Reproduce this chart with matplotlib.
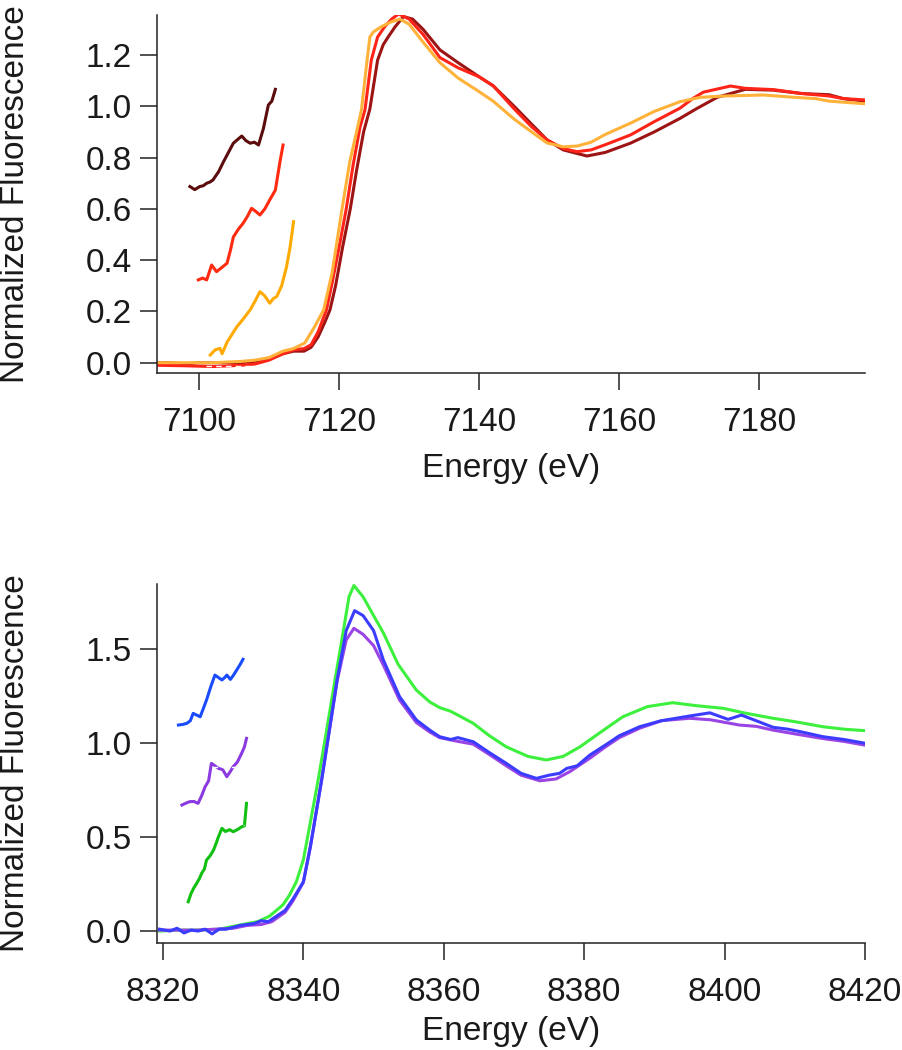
import matplotlib
matplotlib.use("Agg")
import matplotlib.pyplot as plt

plt.rcParams['font.family'] = ['Liberation Sans', 'DejaVu Sans']

# ---------------- Top panel (Fe K-edge region) ----------------
E_dkred = [7094, 7096, 7098, 7100, 7102, 7104, 7106, 7108, 7110, 7112, 7113.5, 7115, 7116, 7117, 7118,
           7118.7, 7119.5, 7120.5, 7121.6, 7122.5, 7123.5, 7124.4, 7125.5, 7126.3, 7127, 7128, 7129.2,
           7130.5, 7132, 7134.4, 7137, 7140, 7142, 7145, 7147.5, 7149.7, 7152, 7155.4, 7158, 7161.6,
           7165, 7168.7, 7171, 7174, 7178, 7182, 7186, 7190, 7192, 7195]
mu_dkred = [0.0, 0.0, -0.005, 0.0, 0.0, 0.0, 0.0, 0.005, 0.015, 0.035, 0.045, 0.045, 0.06, 0.10, 0.16,
            0.206, 0.30, 0.45, 0.60, 0.75, 0.90, 0.99, 1.18, 1.24, 1.27, 1.31, 1.35,
            1.34, 1.30, 1.22, 1.17, 1.115, 1.08, 1.00, 0.93, 0.869, 0.83, 0.806, 0.82, 0.856,
            0.90, 0.953, 0.99, 1.035, 1.066, 1.063, 1.05, 1.045, 1.03, 1.02]

E_red = [7094, 7098, 7102, 7106, 7108, 7110, 7112, 7113.5, 7115, 7116, 7117, 7118.2, 7119, 7120, 7121,
         7122, 7123, 7123.7, 7124.6, 7125.5, 7126.5, 7127.5, 7128.5, 7130, 7132, 7134.4, 7137, 7140,
         7142, 7145, 7147.5, 7149.7, 7152, 7154, 7156, 7158, 7161.6, 7165, 7168.7, 7170.5, 7172,
         7175.9, 7178, 7182, 7186, 7190, 7192, 7195]
mu_red = [-0.01, -0.012, -0.015, -0.01, -0.005, 0.01, 0.035, 0.05, 0.055, 0.07, 0.12, 0.206, 0.31, 0.45, 0.596,
          0.77, 0.92, 0.986, 1.18, 1.27, 1.31, 1.34, 1.36, 1.34, 1.28, 1.19, 1.15, 1.115,
          1.08, 0.99, 0.92, 0.869, 0.835, 0.823, 0.83, 0.85, 0.888, 0.94, 0.993, 1.03, 1.055,
          1.079, 1.07, 1.065, 1.05, 1.04, 1.03, 1.025]

E_orange = [7094, 7098, 7102, 7106, 7108, 7110, 7112, 7113.5, 7115.1, 7116.5, 7117.8, 7119, 7120.4, 7121.5,
            7122.5, 7123.2, 7124.0, 7124.4, 7124.9, 7126, 7127.5, 7128.7, 7130, 7132, 7134.4, 7137, 7140,
            7142, 7145, 7148, 7149.7, 7152, 7154, 7156, 7158, 7161.6, 7165, 7168.7, 7171.6, 7175,
            7180.6, 7185, 7188, 7190, 7195]
mu_orange = [0.0, 0.0, 0.0, 0.005, 0.01, 0.02, 0.045, 0.055, 0.077, 0.14, 0.206, 0.35, 0.596, 0.78,
             0.90, 0.986, 1.18, 1.27, 1.29, 1.31, 1.33, 1.34, 1.32, 1.25, 1.17, 1.11, 1.057,
             1.02, 0.95, 0.89, 0.857, 0.842, 0.845, 0.86, 0.89, 0.934, 0.98, 1.018, 1.035, 1.04,
             1.044, 1.035, 1.03, 1.02, 1.01]

# magnified pre-edge insets (offset)
E_pre_dkred = [7098.7, 7099.4, 7100.1, 7100.6, 7101.1, 7101.6, 7102.0, 7102.8, 7103.5, 7104.2, 7104.9,
               7105.5, 7106.1, 7106.7, 7107.3, 7107.9, 7108.5, 7109.2, 7109.9, 7110.4, 7110.9]
pre_dkred = [0.687, 0.675, 0.687, 0.69, 0.70, 0.705, 0.713, 0.745, 0.784, 0.82, 0.856,
             0.87, 0.884, 0.866, 0.856, 0.86, 0.849, 0.914, 1.005, 1.02, 1.066]

E_pre_red = [7099.9, 7100.5, 7101.1, 7101.8, 7102.5, 7103.2, 7104.0, 7104.5, 7104.9, 7105.6, 7106.3,
             7106.9, 7107.5, 7108.1, 7108.7, 7109.4, 7110.1, 7110.9, 7111.6, 7112.0]
pre_red = [0.323, 0.33, 0.323, 0.381, 0.355, 0.37, 0.388, 0.44, 0.49, 0.52, 0.544,
           0.57, 0.602, 0.59, 0.576, 0.60, 0.635, 0.673, 0.79, 0.849]

E_pre_orange = [7101.6, 7102.3, 7103.0, 7103.3, 7104.0, 7104.7, 7105.4, 7106.3, 7107.3, 7108.0, 7108.7,
                7109.4, 7110.1, 7110.6, 7111.1, 7111.8, 7112.5, 7113.0, 7113.5]
pre_orange = [0.03, 0.05, 0.056, 0.035, 0.08, 0.11, 0.14, 0.17, 0.206, 0.24, 0.277,
              0.26, 0.232, 0.25, 0.258, 0.30, 0.374, 0.45, 0.55]

# white fit marks
fit_top_E = [7101.0, 7110.0]
fit_top_mu = [-0.012, -0.012]

# ---------------- Bottom panel (Cu K-edge region) ----------------
E_green = [8319.5, 8322, 8325, 8328, 8330, 8332, 8333.5, 8335.2, 8337.1, 8338, 8339, 8340, 8341, 8342.1,
           8343, 8344.5, 8345.7, 8346.5, 8347.2, 8348.5, 8350, 8351.4, 8353.5, 8356.1, 8358, 8359.4,
           8361, 8364.2, 8366.5, 8368.9, 8372, 8374.6, 8377, 8379.4, 8382, 8385.5, 8389, 8392.6,
           8396, 8399.8, 8403, 8406.9, 8410, 8414, 8417, 8420]
mu_green = [0.0, 0.005, 0.005, 0.01, 0.025, 0.04, 0.05, 0.08, 0.14, 0.19, 0.262, 0.38, 0.58, 0.804,
            1.0, 1.336, 1.60, 1.78, 1.84, 1.78, 1.68, 1.587, 1.42, 1.283, 1.22, 1.19,
            1.17, 1.106, 1.04, 0.981, 0.93, 0.911, 0.93, 0.981, 1.05, 1.141, 1.195, 1.216,
            1.20, 1.186, 1.16, 1.133, 1.115, 1.088, 1.075, 1.067]

E_blue = [8319.5, 8321, 8322, 8323, 8324, 8325, 8326, 8327, 8328, 8329, 8330, 8331, 8332, 8333, 8334,
          8335, 8336.2, 8337.4, 8338.5, 8340, 8341, 8342.6, 8343.5, 8344.8, 8346.1, 8347.3, 8348.5,
          8350, 8351.4, 8353.7, 8356.1, 8358, 8359.4, 8361, 8362, 8364.2, 8366.5, 8368.9, 8371,
          8373.2, 8375, 8376.5, 8377.5, 8379, 8380.8, 8383, 8385, 8387.9, 8391, 8395, 8397.9,
          8400.5, 8402.4, 8404.5, 8406.9, 8409, 8411, 8414, 8417, 8420]
mu_blue = [0.01, 0.0, 0.015, -0.01, 0.005, 0.0, 0.01, -0.015, 0.01, 0.01, 0.02, 0.03, 0.035, 0.04, 0.055,
           0.05, 0.08, 0.11, 0.17, 0.262, 0.45, 0.804, 1.02, 1.336, 1.60, 1.706, 1.68,
           1.60, 1.443, 1.248, 1.124, 1.07, 1.035, 1.02, 1.03, 1.008, 0.95, 0.893, 0.84,
           0.813, 0.83, 0.84, 0.866, 0.88, 0.937, 0.99, 1.04, 1.088, 1.12, 1.145, 1.162,
           1.127, 1.15, 1.12, 1.085, 1.075, 1.06, 1.035, 1.02, 1.0]

E_purple = [8319.5, 8325, 8330, 8332, 8334, 8335.5, 8337.4, 8338.5, 8340, 8341, 8342.6, 8343.5, 8344.8,
            8346.1, 8347.2, 8348.5, 8350, 8351.4, 8353.7, 8356.1, 8358, 8359.4, 8362, 8364.2, 8366.5,
            8368.9, 8371, 8373.7, 8376, 8378, 8380.8, 8383, 8385, 8387.9, 8391, 8395, 8398, 8402.1,
            8404.5, 8406.9, 8410, 8414, 8417, 8420]
mu_purple = [0.005, 0.005, 0.015, 0.03, 0.035, 0.05, 0.10, 0.16, 0.26, 0.45, 0.804, 1.02, 1.33,
             1.55, 1.612, 1.58, 1.52, 1.416, 1.23, 1.11, 1.06, 1.03, 1.01, 0.995, 0.94,
             0.88, 0.83, 0.80, 0.81, 0.85, 0.92, 0.98, 1.03, 1.08, 1.12, 1.133, 1.125, 1.097,
             1.09, 1.07, 1.05, 1.025, 1.01, 0.99]

E_pre_blue = [8322.2, 8322.8, 8323.4, 8323.9, 8324.3, 8324.8, 8325.3, 8325.8, 8326.2, 8326.8, 8327.4,
              8327.9, 8328.4, 8328.8, 8329.1, 8329.6, 8330.0, 8330.5, 8331.0, 8331.4]
pre_blue = [1.097, 1.10, 1.106, 1.12, 1.159, 1.15, 1.141, 1.19, 1.23, 1.30, 1.363,
            1.35, 1.337, 1.35, 1.363, 1.34, 1.36, 1.39, 1.42, 1.447]

E_pre_purple = [8322.7, 8323.2, 8323.8, 8324.4, 8325.0, 8325.5, 8326.0, 8326.5, 8326.9, 8327.4, 8327.9,
                8328.5, 8329.1, 8329.6, 8330.0, 8330.6, 8331.2, 8331.6, 8331.9]
pre_purple = [0.671, 0.68, 0.689, 0.69, 0.68, 0.72, 0.768, 0.80, 0.893, 0.88, 0.866,
              0.86, 0.822, 0.85, 0.875, 0.90, 0.946, 0.98, 1.026]

E_pre_green = [8323.6, 8324.0, 8324.4, 8324.8, 8325.2, 8325.5, 8325.9, 8326.2, 8326.7, 8327.2, 8327.6,
               8327.9, 8328.4, 8328.9, 8329.5, 8330.0, 8330.6, 8331.2, 8331.6, 8331.9]
pre_green = [0.156, 0.20, 0.23, 0.254, 0.28, 0.307, 0.33, 0.378, 0.40, 0.431, 0.47,
             0.502, 0.547, 0.53, 0.54, 0.529, 0.54, 0.555, 0.56, 0.68]

fit_purple_E = [8327.0, 8330.5]
fit_purple_mu = [0.875, 0.875]
fit_green_E = [8327.2, 8331.5]
fit_green_mu = [0.565, 0.565]

# ---------------- Figure ----------------
W, H = 902, 1050
fig = plt.figure(figsize=(W / 100, H / 100), dpi=100)

def px_axes(l, t, r, b):
    return fig.add_axes([l / W, 1 - b / H, (r - l) / W, (b - t) / H])

ax1 = px_axes(157, 15, 865, 372.7)
ax2 = px_axes(157, 584, 865, 942.7)

lw = 2.2
ax1.plot(E_dkred, mu_dkred, color='#9c1414', lw=lw)
ax1.plot(E_red, mu_red, color='#ff2418', lw=lw)
ax1.plot(E_orange, mu_orange, color='#ffb23a', lw=lw)
ax1.plot(E_pre_dkred, pre_dkred, color='#5c0c0c', lw=lw)
ax1.plot(E_pre_red, pre_red, color='#ff2a10', lw=lw)
ax1.plot(E_pre_orange, pre_orange, color='#ffaa00', lw=lw)
ax1.plot(fit_top_E, fit_top_mu, color='white', lw=1.0, ls=(0, (4, 3)))

ax2.plot(E_green, mu_green, color='#3df03d', lw=lw)
ax2.plot(E_purple, mu_purple, color='#9a44e6', lw=lw)
ax2.plot(E_blue, mu_blue, color='#3c3cff', lw=lw)
ax2.plot(E_pre_blue, pre_blue, color='#1a4cff', lw=lw)
ax2.plot(E_pre_purple, pre_purple, color='#8a3ae0', lw=lw)
ax2.plot(E_pre_green, pre_green, color='#12c012', lw=lw)
ax2.plot(fit_purple_E, fit_purple_mu, color='white', lw=1.0, ls=(0, (4, 3)))
ax2.plot(fit_green_E, fit_green_mu, color='white', lw=1.0, ls=(0, (4, 3)))

ax1.set_xlim(7094.0, 7195.1)
ax1.set_ylim(-0.039, 1.356)
ax1.set_xticks([7100, 7120, 7140, 7160, 7180])
ax1.set_yticks([0.0, 0.2, 0.4, 0.6, 0.8, 1.0, 1.2])
ax1.set_yticklabels(['0.0', '0.2', '0.4', '0.6', '0.8', '1.0', '1.2'])

ax2.set_xlim(8319.15, 8420.0)
ax2.set_ylim(-0.062, 1.848)
ax2.set_xticks([8320, 8340, 8360, 8380, 8400, 8420])
ax2.set_yticks([0.0, 0.5, 1.0, 1.5])
ax2.set_yticklabels(['0.0', '0.5', '1.0', '1.5'])

fs = 24
for ax in (ax1, ax2):
    for s in ('top', 'right'):
        ax.spines[s].set_visible(False)
    for s in ('left', 'bottom'):
        ax.spines[s].set_linewidth(1.1)
        ax.spines[s].set_color('#222222')
    ax.tick_params(axis='both', direction='out', length=12, width=1.1, color='#222222',
                   labelsize=fs, labelcolor='#1a1a1a')
    ax.tick_params(axis='x', pad=12.5)
    ax.tick_params(axis='y', pad=6)
    ax.set_ylabel('Normalized Fluorescence', fontsize=fs, color='#1a1a1a')
    ax.set_xlabel('Energy (eV)', fontsize=fs, color='#1a1a1a', va='top')

ax1.yaxis.set_label_coords(-0.178, 0.5)
ax2.yaxis.set_label_coords(-0.178, 0.5)
ax1.xaxis.set_label_coords(0.5, -0.225)
ax2.xaxis.set_label_coords(0.5, -0.205)

fig.savefig('out.png', dpi=100)
